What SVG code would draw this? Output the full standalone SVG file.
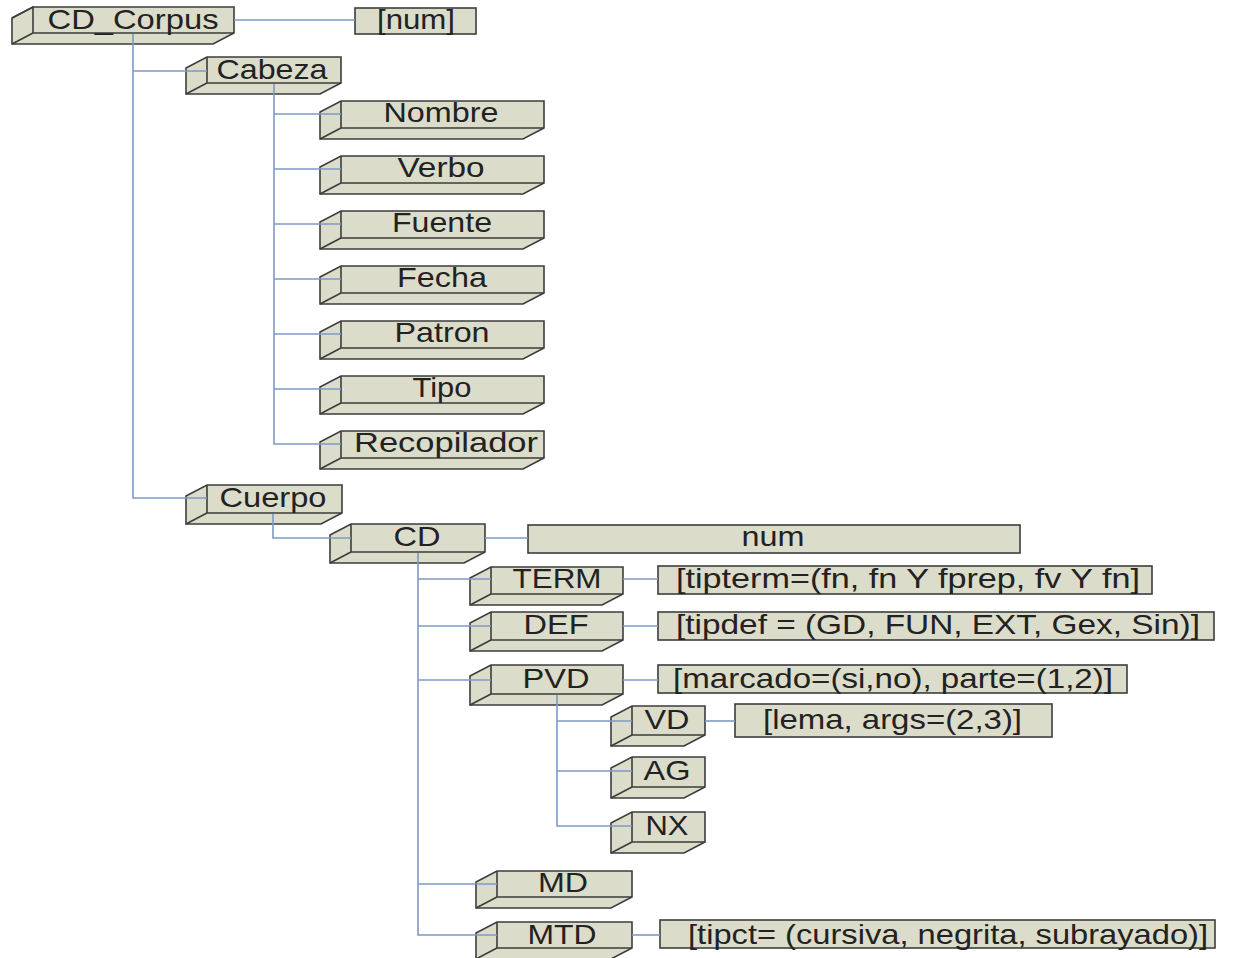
<svg xmlns="http://www.w3.org/2000/svg" width="1234" height="958" viewBox="0 0 1234 958">
<style>
.box{fill:#dcdccb;stroke:#3c3c3c;stroke-width:1.6;stroke-linejoin:miter}
.edge{fill:none;stroke:#3c3c3c;stroke-width:1.6}
.t{font-family:"Liberation Sans",Arial,sans-serif;font-size:28px;fill:#222222}
.m{text-anchor:middle}
.c{fill:none;stroke:#7d99c9;stroke-width:1.6}
</style>
<rect width="1234" height="958" fill="#ffffff"/>
<g id="nodes">
<g id="cd_corpus"><path class="box" d="M33,7H234V33L213,44H12V18Z"/><path class="edge" d="M12,18L33,7V33H234M33,33L12,44"/><text class="t m" x="133" y="29" textLength="171" lengthAdjust="spacingAndGlyphs">CD_Corpus</text></g>
<g id="num_top"><rect class="box" x="355" y="8" width="121" height="26"/><text class="t m" x="416" y="29" textLength="78" lengthAdjust="spacingAndGlyphs">[num]</text></g>
<g id="cabeza"><path class="box" d="M207,57H341V83L320,94H186V68Z"/><path class="edge" d="M207,57V83H341M207,83L186,94"/><text class="t m" x="272" y="79" textLength="111" lengthAdjust="spacingAndGlyphs">Cabeza</text></g>
<g id="nombre"><path class="box" d="M341,101H544V128L523,139H320V112Z"/><path class="edge" d="M341,101V128H544M341,128L320,139"/><text class="t m" x="441" y="122" textLength="115" lengthAdjust="spacingAndGlyphs">Nombre</text></g>
<g id="verbo"><path class="box" d="M341,156H544V183L523,194H320V167Z"/><path class="edge" d="M341,156V183H544M341,183L320,194"/><text class="t m" x="441" y="177" textLength="87" lengthAdjust="spacingAndGlyphs">Verbo</text></g>
<g id="fuente"><path class="box" d="M341,211H544V238L523,249H320V222Z"/><path class="edge" d="M341,211V238H544M341,238L320,249"/><text class="t m" x="442" y="232" textLength="100" lengthAdjust="spacingAndGlyphs">Fuente</text></g>
<g id="fecha"><path class="box" d="M341,266H544V293L523,304H320V277Z"/><path class="edge" d="M341,266V293H544M341,293L320,304"/><text class="t m" x="442" y="287" textLength="90" lengthAdjust="spacingAndGlyphs">Fecha</text></g>
<g id="patron"><path class="box" d="M341,321H544V348L523,359H320V332Z"/><path class="edge" d="M341,321V348H544M341,348L320,359"/><text class="t m" x="442" y="342" textLength="95" lengthAdjust="spacingAndGlyphs">Patron</text></g>
<g id="tipo"><path class="box" d="M341,376H544V403L523,414H320V387Z"/><path class="edge" d="M341,376V403H544M341,403L320,414"/><text class="t m" x="442" y="397" textLength="59" lengthAdjust="spacingAndGlyphs">Tipo</text></g>
<g id="recopilador"><path class="box" d="M341,431H544V458L523,469H320V442Z"/><path class="edge" d="M341,431V458H544M341,458L320,469"/><text class="t m" x="446" y="452" textLength="184" lengthAdjust="spacingAndGlyphs">Recopilador</text></g>
<g id="cuerpo"><path class="box" d="M207,485H342V513L321,524H186V496Z"/><path class="edge" d="M207,485V513H342M207,513L186,524"/><text class="t m" x="273" y="507" textLength="107" lengthAdjust="spacingAndGlyphs">Cuerpo</text></g>
<g id="cd"><path class="box" d="M351,524H485V552L464,563H330V535Z"/><path class="edge" d="M351,524V552H485M351,552L330,563"/><text class="t m" x="417" y="546" textLength="47" lengthAdjust="spacingAndGlyphs">CD</text></g>
<g id="num_cd"><rect class="box" x="528" y="525" width="492" height="28"/><text class="t m" x="773" y="546" textLength="63" lengthAdjust="spacingAndGlyphs">num</text></g>
<g id="term"><path class="box" d="M491,567H623V594L602,605H470V578Z"/><path class="edge" d="M491,567V594H623M491,594L470,605"/><text class="t m" x="557" y="588" textLength="89" lengthAdjust="spacingAndGlyphs">TERM</text></g>
<g id="term_attr"><rect class="box" x="658" y="566" width="494" height="28"/><text class="t" x="676" y="588" textLength="464" lengthAdjust="spacingAndGlyphs">[tipterm=(fn, fn Y fprep, fv Y fn]</text></g>
<g id="def"><path class="box" d="M491,612H623V640L602,651H470V623Z"/><path class="edge" d="M491,612V640H623M491,640L470,651"/><text class="t m" x="556" y="634" textLength="65" lengthAdjust="spacingAndGlyphs">DEF</text></g>
<g id="def_attr"><rect class="box" x="658" y="612" width="556" height="28"/><text class="t" x="676" y="634" textLength="524" lengthAdjust="spacingAndGlyphs">[tipdef = (GD, FUN, EXT, Gex, Sin)]</text></g>
<g id="pvd"><path class="box" d="M491,665H623V694L602,705H470V676Z"/><path class="edge" d="M491,665V694H623M491,694L470,705"/><text class="t m" x="556" y="688" textLength="67" lengthAdjust="spacingAndGlyphs">PVD</text></g>
<g id="pvd_attr"><rect class="box" x="658" y="665" width="469" height="28"/><text class="t" x="673" y="688" textLength="440" lengthAdjust="spacingAndGlyphs">[marcado=(si,no), parte=(1,2)]</text></g>
<g id="vd"><path class="box" d="M632,706H705V735L684,746H611V717Z"/><path class="edge" d="M632,706V735H705M632,735L611,746"/><text class="t m" x="667" y="729" textLength="45" lengthAdjust="spacingAndGlyphs">VD</text></g>
<g id="vd_attr"><rect class="box" x="735" y="704" width="317" height="33"/><text class="t" x="763" y="729" textLength="259" lengthAdjust="spacingAndGlyphs">[lema, args=(2,3)]</text></g>
<g id="ag"><path class="box" d="M632,757H705V787L684,798H611V768Z"/><path class="edge" d="M632,757V787H705M632,787L611,798"/><text class="t m" x="667" y="780" textLength="47" lengthAdjust="spacingAndGlyphs">AG</text></g>
<g id="nx"><path class="box" d="M632,812H705V842L684,853H611V823Z"/><path class="edge" d="M632,812V842H705M632,842L611,853"/><text class="t m" x="667" y="835" textLength="43" lengthAdjust="spacingAndGlyphs">NX</text></g>
<g id="md"><path class="box" d="M497,871H632V897L611,908H476V882Z"/><path class="edge" d="M497,871V897H632M497,897L476,908"/><text class="t m" x="563" y="892" textLength="50" lengthAdjust="spacingAndGlyphs">MD</text></g>
<g id="mtd"><path class="box" d="M497,922H632V948L611,959H476V933Z"/><path class="edge" d="M497,922V948H632M497,948L476,959"/><text class="t m" x="562" y="944" textLength="69" lengthAdjust="spacingAndGlyphs">MTD</text></g>
<g id="mtd_attr"><rect class="box" x="660" y="920" width="555" height="28"/><text class="t" x="688" y="944" textLength="520" lengthAdjust="spacingAndGlyphs">[tipct= (cursiva, negrita, subrayado)]</text></g>
</g>
<g id="connectors">
<path class="c" d="M234,20H355"/>
<path class="c" d="M133,34V498H207M133,71H207"/>
<path class="c" d="M274,84V444H341M274,114H341M274,169H341M274,224H341M274,279H341M274,334H341M274,389H341"/>
<path class="c" d="M273,514V538H351"/>
<path class="c" d="M485,538H528"/>
<path class="c" d="M418,553V935H497M418,884H497M418,579H491M418,626H491M418,680H491"/>
<path class="c" d="M623,579H658M623,626H658M623,680H658"/>
<path class="c" d="M557,695V826H632M557,721H632M557,771H632"/>
<path class="c" d="M705,721H735"/>
<path class="c" d="M632,935H660"/>
</g>
</svg>
